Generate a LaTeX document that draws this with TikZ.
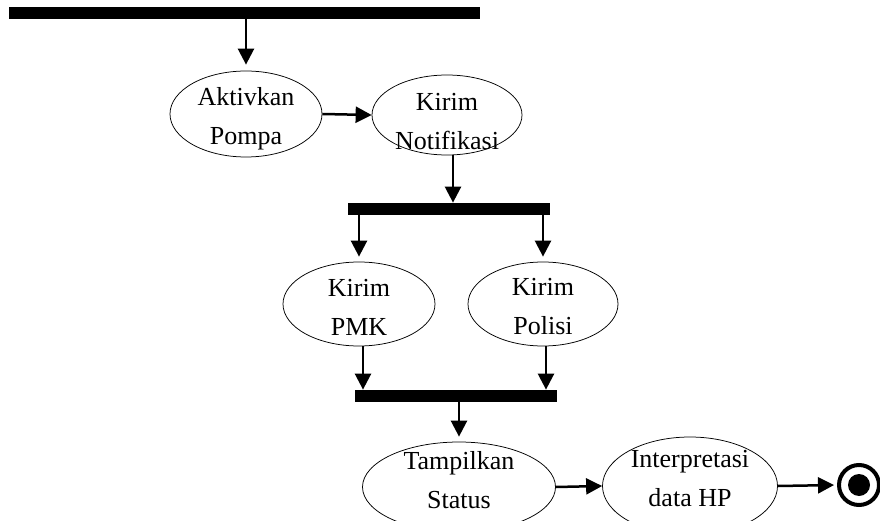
\documentclass[tikz,border=0pt]{standalone}
\usepackage{fontspec}
\setmainfont{Liberation Serif}
\usetikzlibrary{shapes.geometric,arrows.meta,calc}
\tikzset{every picture/.style={line width=0.75pt}}

\begin{document}
\begin{tikzpicture}[x=1pt,y=1pt,yscale=-1,xscale=1,
  activity/.style={draw,ellipse,inner sep=0pt},
  acttext/.style={align=center,inner sep=0pt,font=\fontsize{26}{39}\selectfont},
  syncbar/.style={fill=black,inner sep=0pt,minimum height=12pt},
  flow/.style={line width=2.5pt,-{Triangle[length=16pt,width=16pt]}}]
\useasboundingbox (0,0) rectangle (880,521);
\clip (0,0) rectangle (880,521);

%Bars
\node [syncbar,minimum width=471pt] (startbar) at (244.5,13) {};
\node [syncbar,minimum width=202pt] (forkbar) at (449,209) {};
\node [syncbar,minimum width=202pt] (joinbar) at (456,396) {};

%Shape: Ellipses
\node [activity,minimum width=152pt,minimum height=86pt,
  label={[acttext,yshift=-5pt]center:Aktivkan\\Pompa}] (pompa) at (246,114) {};
\node [activity,minimum width=150pt,minimum height=80pt,
  label={[acttext,yshift=-7pt]center:Kirim\\Notifikasi}] (notif) at (447,115) {};
\node [activity,minimum width=152pt,minimum height=84pt,
  label={[acttext,yshift=-3pt]center:Kirim\\PMK}] (pmk) at (359,304) {};
\node [activity,minimum width=150pt,minimum height=84pt,
  label={[acttext,yshift=-3pt]center:Kirim\\Polisi}] (polisi) at (543,304) {};
\node [activity,minimum width=193pt,minimum height=90pt,
  label={[acttext,yshift=7pt]center:Tampilkan\\Status}] (status) at (459,487) {};
\node [activity,minimum width=175pt,minimum height=98pt,
  label={[acttext,yshift=7pt]center:Interpretasi\\data HP}] (interp) at (690,486) {};

%Final state
\node [circle,draw,line width=4pt,minimum size=40pt,inner sep=0pt] (final) at (859,485) {};
\node [circle,fill=black,minimum size=22pt,inner sep=0pt] (finaldot) at (final) {};

%Straight Lines
\draw [flow,shorten >=6pt] (startbar.south -| pompa) -- (pompa.north);
\draw [flow] (pompa.east) -- (notif.west);
\draw [flow] ([xshift=6pt]notif.south) -- ([xshift=6pt]notif.south |- forkbar.north);
\draw [flow,shorten >=5pt] (forkbar.south -| pmk) -- (pmk.north);
\draw [flow,shorten >=5pt] (forkbar.south -| polisi) -- (polisi.north);
\draw [flow] ([xshift=4pt]pmk.south) -- ([xshift=4pt]pmk.south |- joinbar.north);
\draw [flow] ([xshift=3pt]polisi.south) -- ([xshift=3pt]polisi.south |- joinbar.north);
\draw [flow,shorten >=5pt] (joinbar.south -| status) -- (status.north);
\draw [flow] (status.east) -- (interp.west);
\draw [flow,shorten >=3pt] (interp.east) -- (final.west);

\end{tikzpicture}
\end{document}
